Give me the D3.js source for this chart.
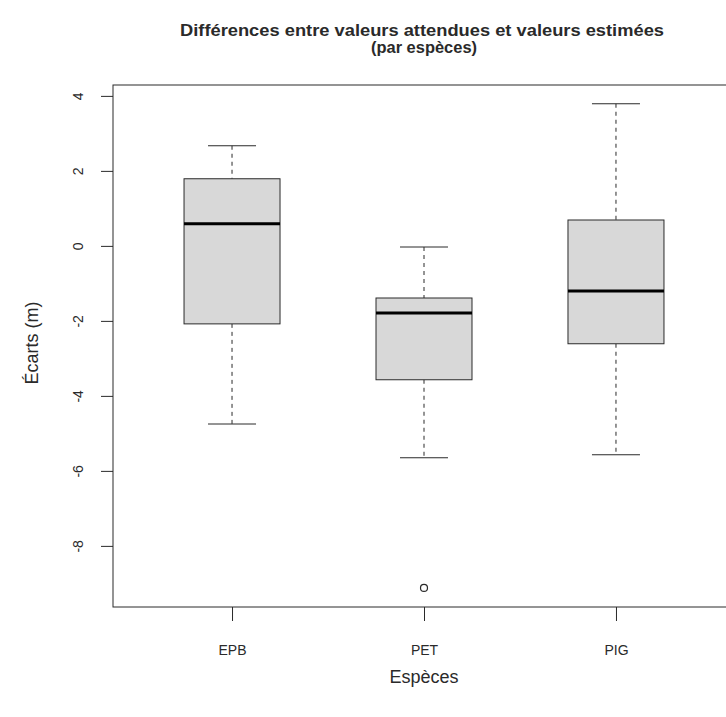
<!DOCTYPE html>
<html>
<head>
<meta charset="utf-8">
<script src="https://cdn.jsdelivr.net/npm/d3@7"></script>
<style>
  body { margin: 0; background: #fff; }
  svg { display: block; font-family: "Liberation Sans", Arial, sans-serif; }
</style>
</head>
<body>
<svg width="726" height="717"></svg>
<script>
// Données
const especes = ["EPB", "PET", "PIG"];
const moustacheBas = [-4.75, -5.65, -5.57];
const q1 = [-2.08, -3.57, -2.61];
const medianes = [0.59, -1.79, -1.2];
const q3 = [1.79, -1.39, 0.69];
const moustacheHaut = [2.67, -0.03, 3.79];
const aberrants = [[], [-9.12], []];
const yTicks = [4, 2, 0, -2, -4, -6, -8];

const svg = d3.select("svg");
const ink = "#2a2a2a";

// Échelles (cadre du graphique : 113..735 x 85..607)
const x = d3.scaleLinear().domain([0.38, 3.62]).range([113, 735]);
const y = d3.scaleLinear().domain([4.29, -9.63]).range([85, 607]);

// Titre
const titre = svg.append("g")
  .attr("font-weight", "bold")
  .attr("font-size", 16.5)
  .attr("fill", ink)
  .attr("text-anchor", "middle");
titre.append("text").attr("x", 422).attr("y", 36)
  .attr("textLength", 484).attr("lengthAdjust", "spacingAndGlyphs")
  .text("Différences entre valeurs attendues et valeurs estimées");
titre.append("text").attr("x", 424).attr("y", 53)
  .attr("textLength", 106).attr("lengthAdjust", "spacingAndGlyphs")
  .text("(par espèces)");

// Boîtes
const data = especes.map((e, i) => ({
  nom: e, i: i + 1,
  bas: moustacheBas[i], q1: q1[i], med: medianes[i], q3: q3[i], haut: moustacheHaut[i],
  out: aberrants[i]
}));

const g = svg.selectAll("g.boite")
  .data(data)
  .enter()
  .append("g")
  .attr("class", "boite");

// moustaches pointillées
g.append("line")
  .attr("x1", d => x(d.i)).attr("x2", d => x(d.i))
  .attr("y1", d => y(d.haut)).attr("y2", d => y(d.q3))
  .attr("stroke", ink).attr("stroke-dasharray", "4,4");
g.append("line")
  .attr("x1", d => x(d.i)).attr("x2", d => x(d.i))
  .attr("y1", d => y(d.q1)).attr("y2", d => y(d.bas))
  .attr("stroke", ink).attr("stroke-dasharray", "4,4");

// barres des extrémités
g.append("line")
  .attr("x1", d => x(d.i - 0.125)).attr("x2", d => x(d.i + 0.125))
  .attr("y1", d => y(d.haut)).attr("y2", d => y(d.haut))
  .attr("stroke", ink);
g.append("line")
  .attr("x1", d => x(d.i - 0.125)).attr("x2", d => x(d.i + 0.125))
  .attr("y1", d => y(d.bas)).attr("y2", d => y(d.bas))
  .attr("stroke", ink);

// rectangle
g.append("rect")
  .attr("x", d => x(d.i - 0.25))
  .attr("width", d => x(d.i + 0.25) - x(d.i - 0.25))
  .attr("y", d => y(d.q3))
  .attr("height", d => y(d.q1) - y(d.q3))
  .attr("fill", "#d8d8d8")
  .attr("stroke", ink);

// médiane
g.append("line")
  .attr("x1", d => x(d.i - 0.25)).attr("x2", d => x(d.i + 0.25))
  .attr("y1", d => y(d.med)).attr("y2", d => y(d.med))
  .attr("stroke", "#000").attr("stroke-width", 3);

// valeurs aberrantes
g.selectAll("circle")
  .data(d => d.out.map(v => ({ i: d.i, v })))
  .enter()
  .append("circle")
  .attr("cx", d => x(d.i)).attr("cy", d => y(d.v))
  .attr("r", 3.5)
  .attr("fill", "none").attr("stroke", ink).attr("stroke-width", 1.2);

// Cadre
svg.append("rect")
  .attr("x", 113).attr("y", 85)
  .attr("width", 735 - 113).attr("height", 607 - 85)
  .attr("fill", "none").attr("stroke", ink);

// Axe Y
const axeY = svg.append("g")
  .attr("transform", "translate(113,0)")
  .call(d3.axisLeft(y).tickValues(yTicks).tickSize(12).tickFormat(d3.format("d")));
axeY.select(".domain").attr("stroke", "none");
axeY.selectAll(".tick line").attr("stroke", ink);
axeY.selectAll(".tick text")
  .attr("x", null).attr("dy", null)
  .attr("transform", "translate(-35,0) rotate(-90)")
  .attr("text-anchor", "middle")
  .attr("dominant-baseline", "central")
  .attr("font-size", 14)
  .attr("font-family", "Liberation Sans, Arial, sans-serif")
  .attr("fill", ink)
  .text(d => d < 0 ? "-" + Math.abs(d) : d);

// Axe X
const axeX = svg.append("g")
  .attr("transform", "translate(0,607)")
  .call(d3.axisBottom(x).tickValues([1, 2, 3]).tickSize(14).tickFormat(d => especes[d - 1]));
axeX.select(".domain").attr("stroke", "none");
axeX.selectAll(".tick line").attr("stroke", ink);
axeX.selectAll(".tick text")
  .attr("y", 43)
  .attr("dy", "0.35em")
  .attr("font-size", 14)
  .attr("font-family", "Liberation Sans, Arial, sans-serif")
  .attr("fill", ink);

// Titres des axes
svg.append("text")
  .attr("x", 424).attr("y", 683)
  .attr("text-anchor", "middle")
  .attr("font-size", 18)
  .attr("fill", ink)
  .text("Espèces");
svg.append("text")
  .attr("transform", "translate(32,343) rotate(-90)")
  .attr("text-anchor", "middle")
  .attr("dominant-baseline", "central")
  .attr("font-size", 18)
  .attr("fill", ink)
  .text("Écarts (m)");
</script>
</body>
</html>
